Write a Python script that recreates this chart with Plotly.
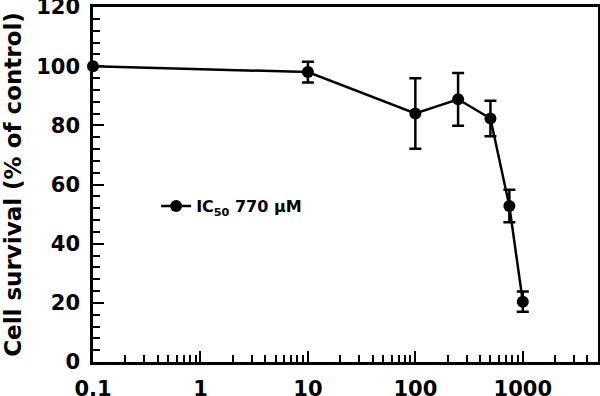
import plotly.graph_objects as go

concentration = [0.1, 10, 100, 250, 500, 750, 1000]
survival = [100, 98, 84, 88.8, 82.3, 52.7, 20.4]
error = [0, 3.5, 11.9, 8.9, 6.0, 5.5, 3.4]
series_name = "IC<sub>50</sub> 770 μM"
x_tick_vals = [0.1, 1, 10, 100, 1000]
x_tick_text = ["0.1", "1", "10", "100", "1000"]

minor_x = [m * 10 ** e for e in range(-1, 4) for m in range(2, 10) if m * 10 ** e < 5000]

fig = go.Figure()
fig.add_trace(go.Scatter(
    x=concentration, y=survival,
    mode="lines+markers",
    name=series_name,
    cliponaxis=False,
    line=dict(color="black", width=2.5),
    marker=dict(color="black", size=12),
    error_y=dict(type="data", array=error, visible=True, color="black", thickness=2.5, width=6),
))

font_family = "DejaVu Sans"
fig.update_layout(
    width=600, height=396,
    margin=dict(l=93, r=2, t=7, b=34, autoexpand=False),
    plot_bgcolor="white", paper_bgcolor="white",
    font=dict(family=font_family, color="black", size=21),
    showlegend=True,
    legend=dict(x=0.125, y=0.439, xanchor="left", yanchor="middle",
                bgcolor="rgba(0,0,0,0)",
                font=dict(family=font_family, size=16, color="black", weight="bold")),
    xaxis=dict(
        type="log", range=[-1, 3.7], automargin=False,
        tickvals=x_tick_vals, ticktext=x_tick_text,
        ticks="inside", ticklen=11, tickwidth=2, tickcolor="black",
        showline=True, linecolor="black", linewidth=2.5, mirror=True,
        showgrid=False, zeroline=False,
        ticklabeloverflow="allow", ticklabelstandoff=6,
        tickfont=dict(family=font_family, size=21, weight="bold"),
        minor=dict(tickvals=minor_x, ticks="inside", ticklen=7, tickwidth=2, tickcolor="black", showgrid=False),
    ),
    yaxis=dict(
        range=[0, 120], dtick=20, tick0=0, automargin=False,
        ticks="inside", ticklen=11, tickwidth=2, tickcolor="black",
        showline=True, linecolor="black", linewidth=2.5, mirror=True,
        showgrid=False, zeroline=False,
        ticklabeloverflow="allow", ticklabelstandoff=6,
        tickfont=dict(family=font_family, size=21, weight="bold"),
        title=dict(text="Cell survival (% of control)", standoff=10,
                   font=dict(family=font_family, size=23, weight="bold")),
        minor=dict(dtick=4, ticks="inside", ticklen=7, tickwidth=2, tickcolor="black", showgrid=False),
    ),
)

fig.write_html("out.html", post_script="document.body.style.margin='0';",
               config={"displayModeBar": False})
